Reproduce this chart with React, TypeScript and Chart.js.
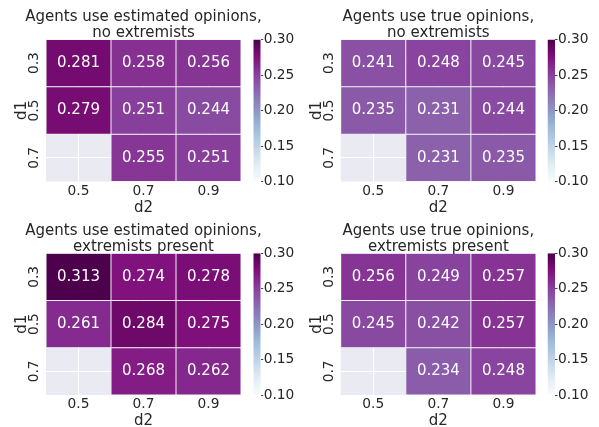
import React, { useEffect, useRef } from 'react';
import { Chart, registerables } from 'chart.js';

Chart.register(...registerables);

// ---------------- data ----------------
const d2Labels = ['0.5', '0.7', '0.9'];
const d1Labels = ['0.3', '0.5', '0.7'];
const colorbarTicks = [0.1, 0.15, 0.2, 0.25, 0.3];
const vMin = 0.1;
const vMax = 0.3;

const estimatedNoExtremists = [
  [0.281, 0.258, 0.256],
  [0.279, 0.251, 0.244],
  [null, 0.255, 0.251],
];
const trueNoExtremists = [
  [0.241, 0.248, 0.245],
  [0.235, 0.231, 0.244],
  [null, 0.231, 0.235],
];
const estimatedExtremists = [
  [0.313, 0.274, 0.278],
  [0.261, 0.284, 0.275],
  [null, 0.268, 0.262],
];
const trueExtremists = [
  [0.256, 0.249, 0.257],
  [0.245, 0.242, 0.257],
  [null, 0.234, 0.248],
];

const titleEstNo = ['Agents use estimated opinions,', 'no extremists'];
const titleTrueNo = ['Agents use true opinions,', 'no extremists'];
const titleEstExt = ['Agents use estimated opinions,', 'extremists present'];
const titleTrueExt = ['Agents use true opinions,', 'extremists present'];

// ---------------- style ----------------
const FONT = '"DejaVu Sans", "Liberation Sans", sans-serif';
const TEXT = '#262626';
const BG = '#EAEAF2';
const BUPU = ['#f7fcfd', '#e0ecf4', '#bfd3e6', '#9ebcda', '#8c96c6', '#8c6bb1', '#88419d', '#810f7c', '#4d004b'];

function hexToRgb(h: string) {
  return [parseInt(h.slice(1, 3), 16), parseInt(h.slice(3, 5), 16), parseInt(h.slice(5, 7), 16)];
}
const BUPU_RGB = BUPU.map(hexToRgb);

function colorFor(v: number) {
  let t = (v - vMin) / (vMax - vMin);
  t = Math.max(0, Math.min(1, t));
  const i = Math.min(255, Math.floor(t * 256));
  const x = i / 255;
  const s = x * 8;
  const k = Math.min(7, Math.floor(s));
  const f = s - k;
  const a = BUPU_RGB[k];
  const b = BUPU_RGB[k + 1];
  const c = a.map((av, n) => Math.round(av + (b[n] - av) * f));
  return `rgb(${c[0]},${c[1]},${c[2]})`;
}

type Rect = { l: number; t: number; r: number; b: number };

const PANELS: { values: (number | null)[][]; title: string[]; hm: Rect; cb: { l: number; r: number } }[] = [
  { values: estimatedNoExtremists, title: titleEstNo, hm: { l: 46, t: 39.5, r: 241, b: 181.5 }, cb: { l: 253.3, r: 260.7 } },
  { values: trueNoExtremists, title: titleTrueNo, hm: { l: 340.7, t: 39.5, r: 536, b: 181.5 }, cb: { l: 547.5, r: 555 } },
  { values: estimatedExtremists, title: titleEstExt, hm: { l: 46, t: 253.3, r: 241, b: 395 }, cb: { l: 253.3, r: 260.7 } },
  { values: trueExtremists, title: titleTrueExt, hm: { l: 340.7, t: 253.3, r: 536, b: 395 }, cb: { l: 547.5, r: 555 } },
];

const heatPlugin = {
  id: 'heat',
  beforeDraw(chart: any) {
    const { ctx, chartArea: a } = chart;
    ctx.save();
    ctx.fillStyle = BG;
    ctx.fillRect(a.left, a.top, a.right - a.left, a.bottom - a.top);
    ctx.restore();
  },
  afterDatasetsDraw(chart: any, _args: any, opts: any) {
    const { ctx } = chart;
    const values = opts.values as (number | null)[][];
    ctx.save();
    ctx.fillStyle = '#ffffff';
    ctx.font = `15px ${FONT}`;
    ctx.textAlign = 'center';
    ctx.textBaseline = 'middle';
    values.forEach((row, i) => {
      const meta = chart.getDatasetMeta(i);
      row.forEach((v, j) => {
        if (v == null) return;
        const el = meta.data[j];
        if (!el) return;
        const cy = (el.y + el.base) / 2;
        ctx.fillText(v.toFixed(3), el.x, cy);
      });
    });
    ctx.restore();
  },
  afterDraw(chart: any, _args: any, opts: any) {
    const { ctx, chartArea: a } = chart;
    const lines = opts.title as string[];
    ctx.save();
    ctx.fillStyle = TEXT;
    ctx.font = `15px ${FONT}`;
    ctx.textAlign = 'center';
    ctx.textBaseline = 'alphabetic';
    const cx = (a.left + a.right) / 2;
    ctx.fillText(lines[0], cx, a.top - 18.7);
    ctx.fillText(lines[1], cx, a.top - 2.8);
    ctx.restore();
  },
};

function Panel({ values, title, hm, cb }: (typeof PANELS)[number]) {
  const heatRef = useRef<HTMLCanvasElement>(null);
  const cbRef = useRef<HTMLCanvasElement>(null);

  // heatmap canvas geometry
  const cl = Math.floor(hm.l) - 46;
  const ct = Math.floor(hm.t - 39.5);
  const cw = Math.ceil(hm.r) + 30 - cl;
  const ch = Math.ceil(hm.b + 36) - ct;
  const yWidth = hm.l - cl;
  const xHeight = ch - (hm.b - ct);
  const padTop = hm.t - ct;
  const padRight = cw - (hm.r - cl);
  const d1Pad = hm.l - 23.7 - cl - 9;

  // colorbar canvas geometry
  const bl = Math.floor(cb.l);
  const bt = Math.floor(hm.t) - 10;
  const bw = 60;
  const bh = Math.ceil(hm.b) + 10 - bt;

  useEffect(() => {
    const datasets = values.map((row, i) => ({
      data: row.map((v) => (v == null ? null : [i, i + 1])),
      backgroundColor: row.map((v) => (v == null ? 'rgba(0,0,0,0)' : colorFor(v))),
      borderColor: '#ffffff',
      borderWidth: 0.5,
      borderSkipped: false as const,
      inflateAmount: 0,
      barPercentage: 1,
      categoryPercentage: 1,
      grouped: false,
    }));

    const heat = new Chart(heatRef.current as HTMLCanvasElement, {
      type: 'bar',
      data: { labels: d2Labels, datasets: datasets as any },
      options: {
        animation: false,
        responsive: false,
        events: [],
        layout: { padding: { top: padTop, right: padRight, left: 0, bottom: 0 } },
        plugins: {
          legend: { display: false },
          tooltip: { enabled: false },
          title: { display: false },
          heat: { values, title },
        } as any,
        scales: {
          x: {
            type: 'category',
            offset: true,
            grid: { display: true, offset: false, color: '#ffffff', lineWidth: 1, drawTicks: false },
            border: { display: false },
            ticks: { color: TEXT, font: { family: FONT, size: 13.75 }, padding: 1.5, maxRotation: 0, autoSkip: false },
            title: { display: true, text: 'd2', color: TEXT, font: { family: FONT, size: 15 }, padding: { top: 0, bottom: 1 } },
            afterFit: (s: any) => {
              s.height = xHeight;
            },
          },
          y: {
            type: 'linear',
            min: 0,
            max: 3,
            reverse: true,
            grid: { display: true, color: '#ffffff', lineWidth: 1, drawTicks: false },
            border: { display: false },
            afterBuildTicks: (s: any) => {
              s.ticks = [0.5, 1.5, 2.5].map((value) => ({ value }));
            },
            ticks: {
              color: TEXT,
              font: { family: FONT, size: 13.75 },
              padding: 0.5,
              minRotation: 90,
              maxRotation: 90,
              crossAlign: 'center',
              autoSkip: false,
              callback: (_v: any, i: number) => d1Labels[i],
            },
            title: { display: true, text: 'd1', color: TEXT, font: { family: FONT, size: 15 }, padding: { top: d1Pad, bottom: 0 } },
            afterFit: (s: any) => {
              s.width = yWidth;
            },
          },
        } as any,
      },
      plugins: [heatPlugin],
    });

    const bar = new Chart(cbRef.current as HTMLCanvasElement, {
      type: 'bar',
      data: {
        labels: [''],
        datasets: [
          {
            data: [[vMin, vMax]] as any,
            backgroundColor: (c: any) => {
              const a = c.chart.chartArea;
              if (!a) return BUPU[4];
              const g = c.chart.ctx.createLinearGradient(0, a.bottom, 0, a.top);
              BUPU.forEach((col, k) => g.addColorStop(k / 8, col));
              return g;
            },
            borderWidth: 0,
            inflateAmount: 0,
            barPercentage: 1,
            categoryPercentage: 1,
          } as any,
        ],
      },
      options: {
        animation: false,
        responsive: false,
        events: [],
        layout: { padding: { top: hm.t - bt, bottom: bh - (hm.b - bt), left: cb.l - bl, right: 0 } },
        plugins: { legend: { display: false }, tooltip: { enabled: false } },
        scales: {
          x: { display: false },
          y: {
            position: 'right',
            min: vMin,
            max: vMax,
            afterBuildTicks: (s: any) => {
              s.ticks = colorbarTicks.map((value) => ({ value }));
            },
            ticks: {
              color: TEXT,
              font: { family: FONT, size: 13.75 },
              padding: 0.5,
              callback: (v: any) => Number(v).toFixed(2),
            },
            grid: { drawOnChartArea: false, drawTicks: true, tickLength: 2.5, color: '#444444', lineWidth: 1 },
            border: { display: false },
            afterFit: (s: any) => {
              s.width = bw - (cb.r - bl);
            },
          },
        } as any,
      },
    });

    return () => {
      heat.destroy();
      bar.destroy();
    };
  }, []);

  return (
    <>
      <canvas
        ref={heatRef}
        width={cw}
        height={ch}
        style={{ position: 'absolute', left: cl, top: ct, width: cw, height: ch }}
      />
      <canvas
        ref={cbRef}
        width={bw}
        height={bh}
        style={{ position: 'absolute', left: bl, top: bt, width: bw, height: bh }}
      />
    </>
  );
}

export default function App() {
  return (
    <div
      style={{
        position: 'fixed',
        left: 0,
        top: 0,
        width: 599,
        height: 427,
        background: '#ffffff',
        overflow: 'hidden',
      }}
    >
      {PANELS.map((p, k) => (
        <Panel key={k} {...p} />
      ))}
    </div>
  );
}
